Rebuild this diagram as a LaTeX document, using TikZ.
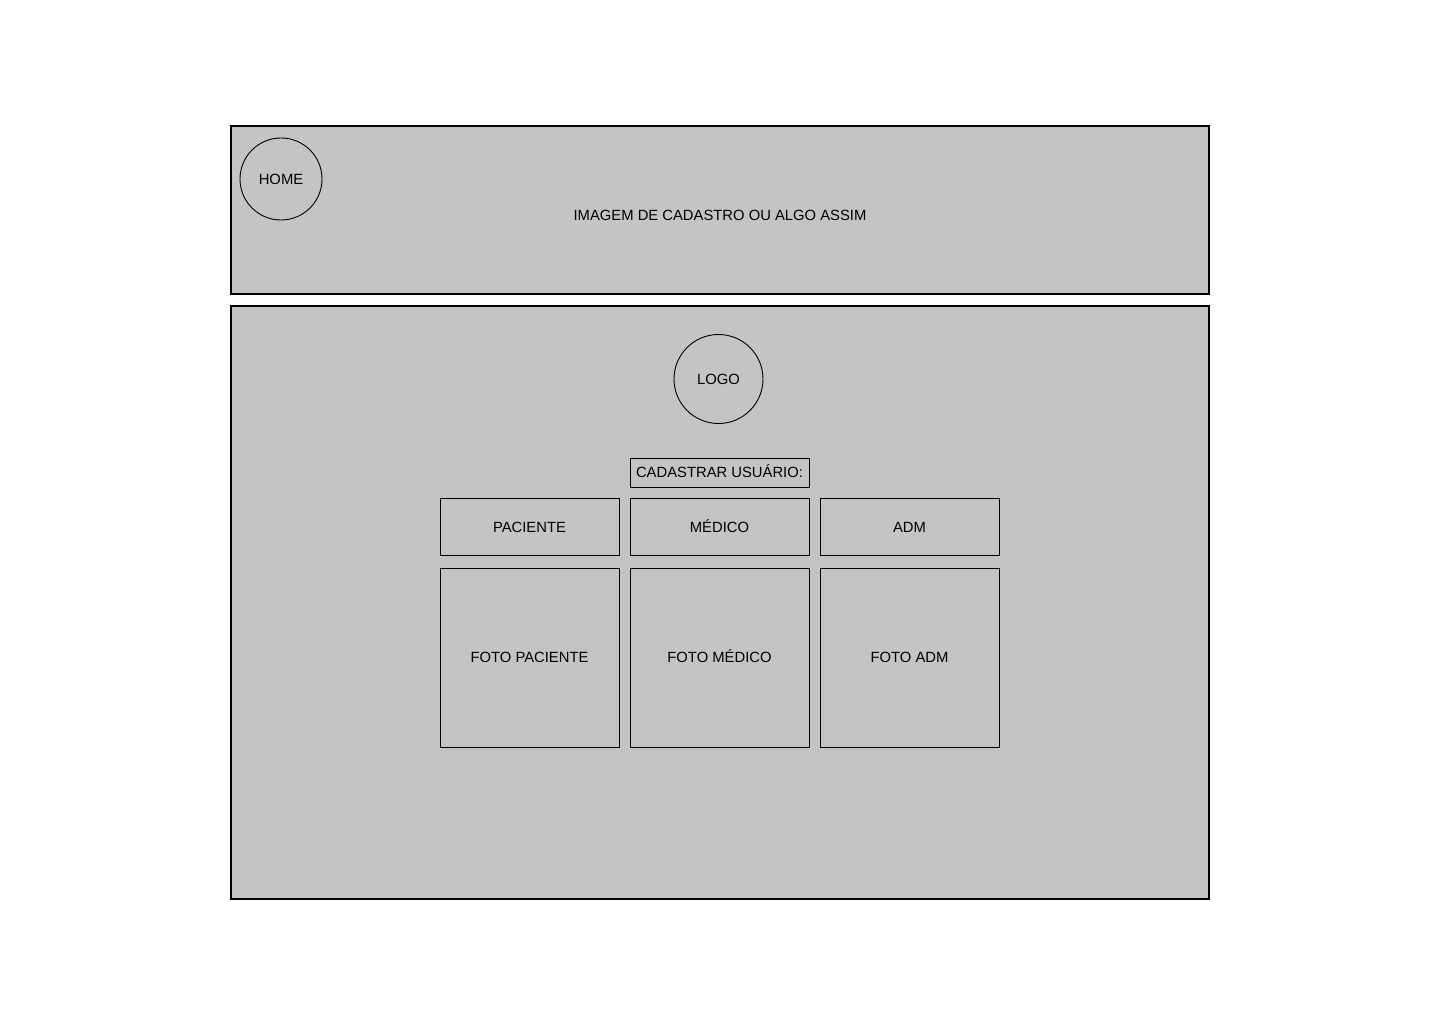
\documentclass[tikz,border=0pt]{standalone}
\usepackage{fontspec}
\setmainfont{Liberation Sans}
\definecolor{panel}{HTML}{C4C4C4}
\begin{document}
\begin{tikzpicture}[x=1pt,y=-1pt,
  panelbox/.style={draw=black,line width=2pt,fill=panel},
  thinbox/.style={draw=black,line width=0.9pt,fill=panel},
  lbl/.style={font=\fontsize{14.8}{17}\selectfont,inner sep=0pt,text height=10.6pt,text depth=0pt}]
\useasboundingbox (0,0) rectangle (1440,1024);
\fill[white] (0,0) rectangle (1440,1024);
% panels
\draw[panelbox] (231,126) rectangle (1209,294);
\draw[panelbox] (231,306) rectangle (1209,899);
\node[lbl] (banner) at (720,215) {IMAGEM DE CADASTRO OU ALGO ASSIM};
% circles
\draw[thinbox] (281,179) circle (41);
\node[lbl] (home) at (281,179.5) {HOME};
\draw[thinbox] (718.5,379) circle (44.5);
\node[lbl] (logo) at (718.5,379.5) {LOGO};
% cadastrar
\draw[thinbox] (630,458) rectangle (809,487);
\node[lbl] (cad) at (719.5,472.5) {CADASTRAR USUÁRIO:};
% buttons
\draw[thinbox] (440,498) rectangle (619,555);
\node[lbl] (pac) at (529.5,527) {PACIENTE};
\draw[thinbox] (630,498) rectangle (809,555);
\node[lbl] (med) at (719.5,527) {MÉDICO};
\draw[thinbox] (820,498) rectangle (999,555);
\node[lbl] (adm) at (909.5,527) {ADM};
% photos
\draw[thinbox] (440,568) rectangle (619,747);
\node[lbl] (fpac) at (529.5,657) {FOTO PACIENTE};
\draw[thinbox] (630,568) rectangle (809,747);
\node[lbl] (fmed) at (719.5,657) {FOTO MÉDICO};
\draw[thinbox] (820,568) rectangle (999,747);
\node[lbl] (fadm) at (909.5,657) {FOTO ADM};
\end{tikzpicture}
\end{document}
